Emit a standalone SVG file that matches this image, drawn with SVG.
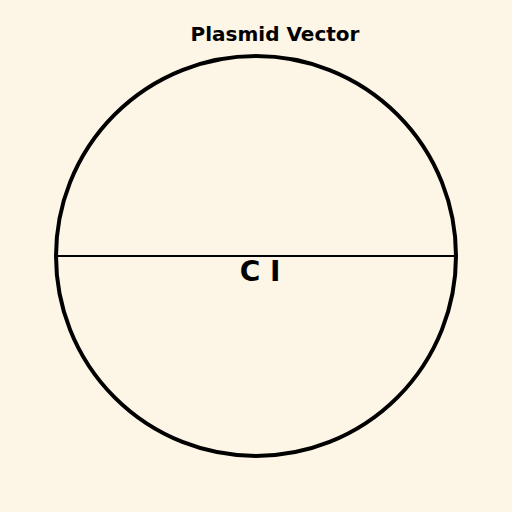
<svg xmlns="http://www.w3.org/2000/svg" width="512" height="512" viewBox="0 0 512 512">
<style>
text{font-family:"DejaVu Sans",sans-serif;font-weight:bold;fill:#000;text-anchor:middle}
</style>
<rect width="512" height="512" fill="#fdf5e6"/>
<g id="plasmid">
<circle cx="256" cy="256" r="200" fill="none" stroke="#000" stroke-width="4"/>
</g>
<g id="connectors">
<line x1="56" y1="256" x2="456" y2="256" stroke="#000" stroke-width="2"/>
</g>
<g id="label">
<text x="260" y="281" font-size="28">C I</text>
</g>
<g id="title">
<text x="275" y="41" font-size="20">Plasmid Vector</text>
</g>
</svg>
